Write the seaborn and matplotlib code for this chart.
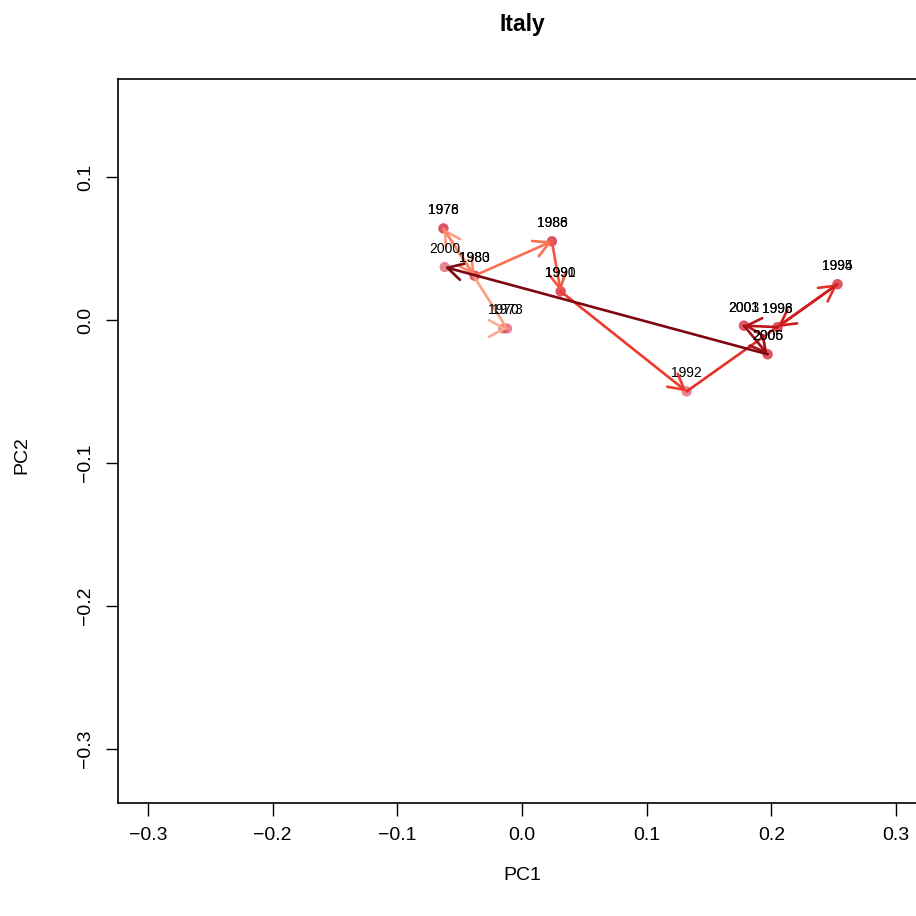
import matplotlib
matplotlib.use("Agg")
import matplotlib.pyplot as plt
import seaborn as sns
import pandas as pd
import numpy as np

# Yearly positions on the first two principal components
years = ["1970", "1973", "1976", "1978", "1980", "1983", "1986", "1988",
         "1990", "1991", "1992", "1994", "1995", "1996", "1998",
         "2001", "2003", "2005", "2006", "2000"]
pc1 = [-0.015, -0.012, -0.063, -0.063, -0.038, -0.038, 0.024, 0.024,
       0.031, 0.031, 0.132, 0.253, 0.253, 0.205, 0.205,
       0.178, 0.178, 0.197, 0.197, -0.062]
pc2 = [-0.006, -0.006, 0.064, 0.064, 0.031, 0.031, 0.055, 0.055,
       0.020, 0.020, -0.050, 0.025, 0.025, -0.005, -0.005,
       -0.004, -0.004, -0.024, -0.024, 0.037]

x_ticks = [-0.3, -0.2, -0.1, 0.0, 0.1, 0.2, 0.3]
y_ticks = [0.1, 0.0, -0.1, -0.2, -0.3]

df = pd.DataFrame({"year": years, "PC1": pc1, "PC2": pc2})

sns.set_style("white")
plt.rcParams["font.family"] = ["Liberation Sans", "DejaVu Sans"]
plt.rcParams["text.color"] = "black"
plt.rcParams["axes.labelcolor"] = "black"
plt.rcParams["xtick.color"] = "black"
plt.rcParams["ytick.color"] = "black"

W = 916
fig = plt.figure(figsize=(W / 100, W / 100), dpi=100)
ax = fig.add_axes([118 / W, 113 / W, 808 / W, 724 / W])

# arrows coloured along a light-to-dark red ramp in time order
cmap = sns.color_palette("Reds", as_cmap=True)
n_seg = len(df) - 1
seg_cols = [cmap(0.3 + 0.65 * i / (n_seg - 1)) for i in range(n_seg)]

sns.scatterplot(data=df, x="PC1", y="PC2", ax=ax, color="#D8364A",
                alpha=0.6, s=55, edgecolor="none", zorder=2)

for i in range(n_seg):
    x0, y0 = df.PC1[i], df.PC2[i]
    x1, y1 = df.PC1[i + 1], df.PC2[i + 1]
    if abs(x1 - x0) < 1e-9 and abs(y1 - y0) < 1e-9:
        continue
    ax.annotate("", xy=(x1, y1), xytext=(x0, y0),
                arrowprops=dict(arrowstyle="->,head_length=0.55,head_width=0.3",
                                color=seg_cols[i], lw=1.9, shrinkA=0, shrinkB=0,
                                mutation_scale=20),
                zorder=3)

for _, r in df.iterrows():
    ax.annotate(r.year, (r.PC1, r.PC2), xytext=(0, 13), textcoords="offset points",
                ha="center", va="center", fontsize=10, color="black", zorder=4)

ax.set_xlim(-0.324, 0.324)
ax.set_ylim(-0.3378, 0.1685)
ax.set_xticks(x_ticks)
ax.set_xticklabels([f"{v:.1f}".replace("-", "\u2212") for v in x_ticks])
ax.set_yticks(y_ticks)
ax.set_yticklabels([f"{v:.1f}".replace("-", "\u2212") for v in y_ticks],
                   rotation=90, va="center")
ax.tick_params(axis="both", direction="out", length=9, width=1, colors="black",
               labelsize=14, pad=8)
ax.tick_params(axis="x", bottom=True)
ax.tick_params(axis="y", left=True)
for s in ax.spines.values():
    s.set_visible(True)
    s.set_color("black")
    s.set_linewidth(1.2)
ax.set_xlabel("")
ax.set_ylabel("")

fig.text(522 / W, 1 - 24 / W, "Italy", ha="center", va="center",
         fontsize=16.5, fontweight="bold", color="black")
fig.text(522 / W, 1 - 876 / W, "PC1", ha="center", va="center", fontsize=14,
         color="black")
fig.text(22 / W, 1 - 455 / W, "PC2", ha="center", va="center", fontsize=14,
         rotation=90, color="black")

fig.savefig("out.png", dpi=100)
